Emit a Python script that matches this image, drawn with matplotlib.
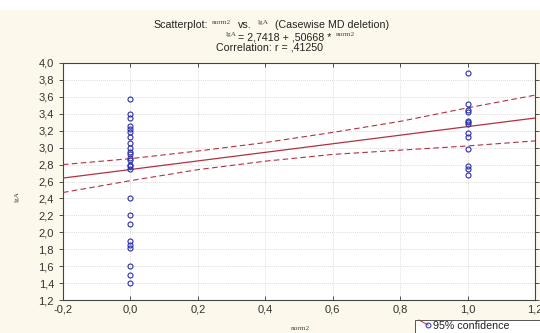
import numpy as np
import matplotlib
matplotlib.use("Agg")
import matplotlib.pyplot as plt
from matplotlib.patches import Rectangle
from matplotlib.lines import Line2D

# ---- data ----
x_group0 = [0.0] * 25
y_group0 = [3.57, 3.40, 3.35, 3.25, 3.22, 3.18, 3.12, 3.05, 3.00, 2.95, 2.92, 2.88,
            2.85, 2.80, 2.78, 2.75, 2.40, 2.20, 2.10, 1.90, 1.85, 1.82, 1.60, 1.50, 1.40]
x_group1 = [1.0] * 13
y_group1 = [3.88, 3.52, 3.45, 3.42, 3.32, 3.30, 3.28, 3.17, 3.12, 2.98, 2.78, 2.75, 2.68]

intercept = 2.7418
slope = 0.50668

band_x = [-0.2, 0.0, 0.2, 0.4, 0.6, 0.8, 1.0, 1.2]
band_upper = [2.80, 2.87, 2.96, 3.06, 3.18, 3.31, 3.47, 3.62]
band_lower = [2.47, 2.61, 2.74, 2.84, 2.92, 2.97, 3.02, 3.08]

x_ticks = [-0.2, 0.0, 0.2, 0.4, 0.6, 0.8, 1.0, 1.2]
y_ticks = [1.2, 1.4, 1.6, 1.8, 2.0, 2.2, 2.4, 2.6, 2.8, 3.0, 3.2, 3.4, 3.6, 3.8, 4.0]

def fmt(v):
    return f"{v:.1f}".replace(".", ",")

sans = "Liberation Sans"
serif = "Liberation Serif"

# ---- figure ----
W, H = 540, 333
fig = plt.figure(figsize=(W / 100, H / 100), dpi=100)
cream = "#fcf8ec"
fig.patch.set_facecolor(cream)
fig.patches.append(Rectangle((0, 1 - 10 / H), 1, 10 / H, transform=fig.transFigure,
                             facecolor="white", edgecolor="none", zorder=0))

ax = fig.add_axes([63 / W, 1 - 300 / H, (535 - 63) / W, (300 - 63) / H])
ax.set_facecolor("white")

red = "#b5303f"
blue = "#2b2fa8"
xs = np.array([-0.2, 1.2])
ax.plot(xs, intercept + slope * xs, color=red, lw=0.9, zorder=3)
ax.plot(band_x, band_upper, color=red, lw=0.8, ls=(0, (5, 3)), zorder=3)
ax.plot(band_x, band_lower, color=red, lw=0.8, ls=(0, (5, 3)), zorder=3)

ax.plot(x_group0, y_group0, ls="none", marker="o", ms=3.6, mfc="none", mec=blue, mew=0.8, zorder=4)
ax.plot(x_group1, y_group1, ls="none", marker="o", ms=3.6, mfc="none", mec=blue, mew=0.8, zorder=4)

ax.set_xlim(-0.2, 1.2)
ax.set_ylim(1.2, 4.0)
ax.set_xticks(x_ticks)
ax.set_yticks(y_ticks)
ax.set_xticklabels([fmt(v) for v in x_ticks], family=sans)
ax.set_yticklabels([fmt(v) for v in y_ticks], family=sans)
ax.grid(True, color="#d0d0d0", ls=(0, (1, 1.5)), lw=0.6)
ax.tick_params(axis="both", labelsize=8, colors="#333333", length=3, width=0.6)
ax.tick_params(axis="x", direction="in", top=True)
ax.tick_params(axis="y", direction="out", right=True)
for sp in ax.spines.values():
    sp.set_color("#444444")
    sp.set_linewidth(0.8)

# ---- title pieces ----
def ftext(xp, yp, s, size=7.7, family=sans, ha="left", color="#222222", **kw):
    fig.text(xp / W, 1 - yp / H, s, fontsize=size, family=family, ha=ha, va="baseline",
             color=color, **kw)

small = dict(size=5.2, family=serif, color="#444444")
ftext(153, 28, "Scatterplot:")
ftext(212, 24, "norm2", **small)
ftext(238, 28, "vs.")
ftext(258, 24, "lgA", **small)
ftext(275, 28, "(Casewise MD deletion)")
ftext(226, 36, "lgA", **small)
ftext(238, 40, "= 2,7418 + ,50668 *")
ftext(336, 36, "norm2", **small)
ftext(216, 51, "Correlation: r = ,41250")

fig.text(300 / W, 1 - 330 / H, "norm2", fontsize=5.2, family=serif, ha="center",
         va="baseline", color="#444444")
fig.text(17 / W, 1 - 197 / H, "lgA", fontsize=5.2, family=serif, ha="center",
         va="center", rotation=90, color="#444444")

# ---- legend box ----
fig.patches.append(Rectangle((415 / W, -0.01), 130 / W, 16 / H, transform=fig.transFigure,
                             facecolor="white", edgecolor="#555555", lw=0.7, zorder=5))
fig.lines.append(Line2D([419 / W, 428 / W], [1 - 320 / H, 1 - 325 / H], transform=fig.transFigure,
                        color=red, lw=0.7, zorder=6))
fig.lines.append(Line2D([428 / W], [1 - 325 / H], transform=fig.transFigure, marker="o", ms=3.5,
                        mfc="none", mec=blue, mew=0.7, zorder=6))
fig.text(433 / W, 1 - 329 / H, "95% confidence", fontsize=7.7, family=sans, color="#222222", zorder=6)

fig.savefig("out.png", dpi=100, facecolor=fig.get_facecolor())
